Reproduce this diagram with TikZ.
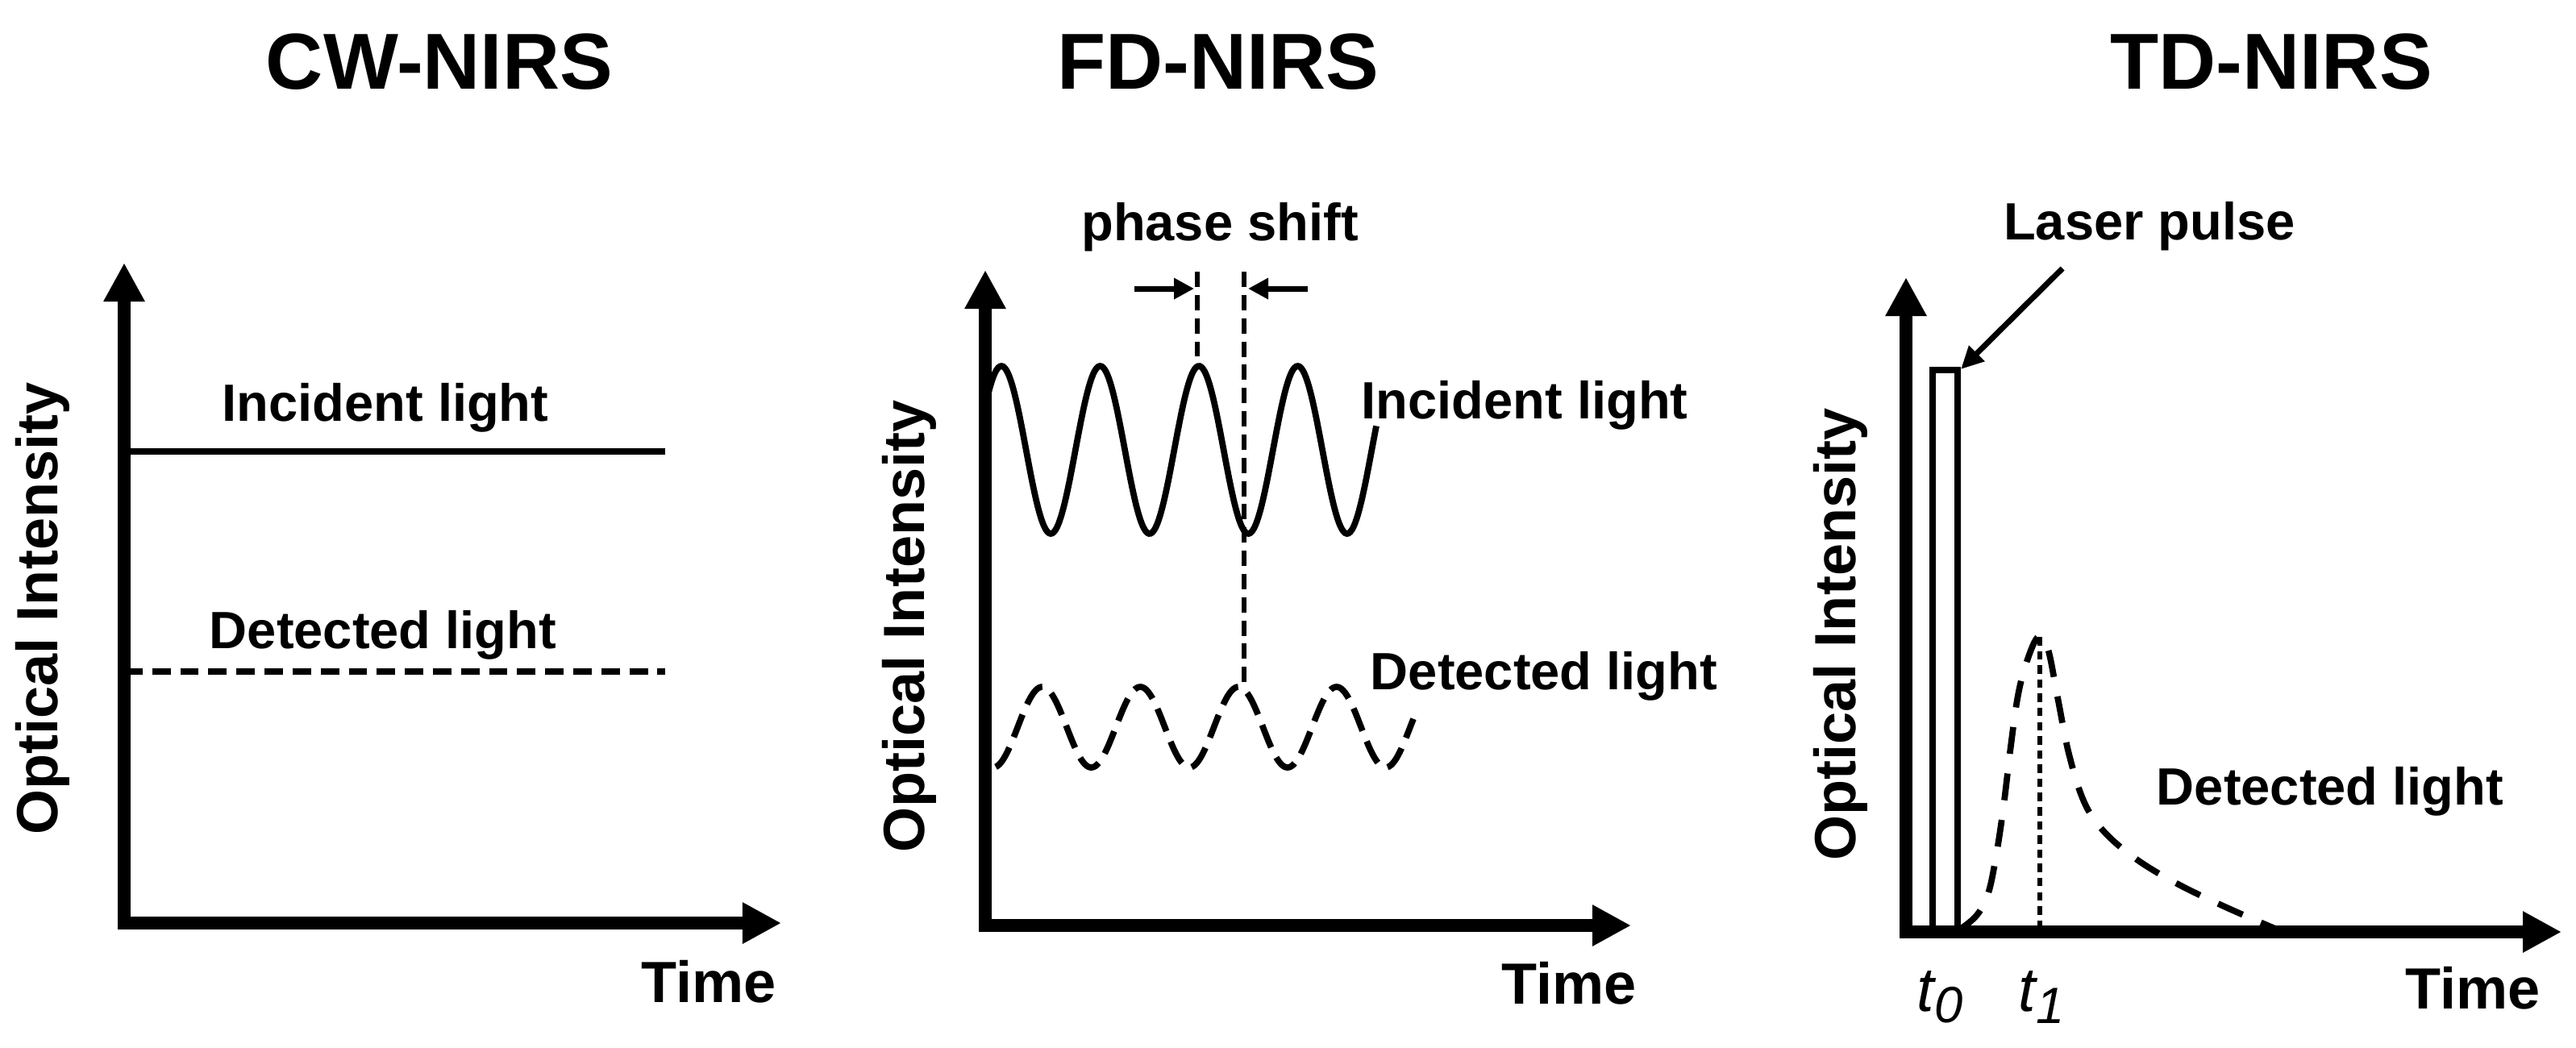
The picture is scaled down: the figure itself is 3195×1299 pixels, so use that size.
\documentclass[tikz,border=0pt]{standalone}
\usepackage{fontspec}
\setmainfont{Liberation Sans}
\usetikzlibrary{arrows.meta,positioning}

\begin{document}
\begin{tikzpicture}[x=0.01cm,y=-0.01cm]
\tikzset{
  axisline/.style={draw=black,line width=4.4pt,line join=miter,{Triangle[length=4.8mm,width=4.8mm]}-{Triangle[length=4.8mm,width=4.8mm]}},
  curveline/.style={draw=black,line width=2.2pt},
  flatdash/.style={curveline,dash pattern=on 6.5pt off 3.4pt},
  wavedash/.style={curveline,dash pattern=on 8.5pt off 4pt},
  pulsedash/.style={curveline,dash pattern=on 9.5pt off 7pt},
  markline/.style={draw=black,line width=1.9pt,dash pattern=on 5.4pt off 2.8pt},
  peakline/.style={draw=black,line width=1.5pt,dash pattern=on 3pt off 2pt},
  pointer/.style={draw=black,line width=2pt,-{Triangle[length=2.5mm,width=2.5mm]}},
  titletext/.style={font=\fontsize{28}{32}\selectfont\bfseries,inner sep=0pt},
  curvetext/.style={font=\fontsize{18.5}{22}\selectfont\bfseries,inner sep=0pt},
  axistext/.style={font=\fontsize{20.5}{24}\selectfont\bfseries,inner sep=0pt},
  ticktext/.style={font=\fontsize{22}{26}\selectfont\itshape,inner sep=0pt}
}
\useasboundingbox (0,0) rectangle (3195,1299);
% titles
\node[titletext] (n_title_cw) at (545,77) {CW-NIRS};
\node[titletext] (n_title_fd) at (1511,77) {FD-NIRS};
\node[titletext] (n_title_td) at (2817,77) {TD-NIRS};
% CW panel
\coordinate (c_ytop_cw) at (154,326);
\coordinate (c_o_cw) at (154,1145);
\coordinate (c_xtip_cw) at (969,1145);
\coordinate (c_inc_cw_a) at (154,560);
\coordinate (c_inc_cw_b) at (825,560);
\coordinate (c_det_cw_a) at (154,833);
\coordinate (c_det_cw_b) at (825,833);
\node[axistext,rotate=90] (n_y_cw) at (53,755) {Optical Intensity};
\node[axistext] (n_t_cw) at (879,1218) {Time};
\node[curvetext] (n_inc_cw) at (478,506) {Incident light};
\node[curvetext] (n_det_cw) at (475,788) {Detected light};
\draw[curveline] (c_inc_cw_a) -- (c_inc_cw_b);
\draw[flatdash] (c_det_cw_a) -- (c_det_cw_b);
\draw[axisline] (c_ytop_cw) -- (c_o_cw) -- (c_xtip_cw);
% FD panel
\coordinate (c_ytop_fd) at (1222,335);
\coordinate (c_o_fd) at (1222,1148);
\coordinate (c_xtip_fd) at (2023,1148);
\coordinate (c_ps_l_top) at (1485,337);
\coordinate (c_ps_l_bot) at (1485,442);
\coordinate (c_ps_r_top) at (1543,337);
\coordinate (c_ps_r_bot) at (1543,852);
\coordinate (c_ps_l_from) at (1407,358);
\coordinate (c_ps_l_to) at (1481,358);
\coordinate (c_ps_r_from) at (1622,358);
\coordinate (c_ps_r_to) at (1548,358);
\node[axistext,rotate=90] (n_y_fd) at (1128,777) {Optical Intensity};
\node[axistext] (n_t_fd) at (1946,1220) {Time};
\node[curvetext] (n_phase) at (1513,282) {phase shift};
\node[curvetext] (n_inc_fd) at (1891,503) {Incident light};
\node[curvetext] (n_det_fd) at (1915,839) {Detected light};
\draw[curveline] plot[domain=1222:1707,samples=240,smooth] (\x,{558-104*cos(((\x-1487)/122.5)*360)});
\draw[wavedash] plot[domain=1235:1753,samples=240,smooth] (\x,{902-50*cos(((\x-1536)/121.7)*360)});
\draw[markline] (c_ps_l_top) -- (c_ps_l_bot);
\draw[markline] (c_ps_r_top) -- (c_ps_r_bot);
\draw[pointer] (c_ps_l_from) -- (c_ps_l_to);
\draw[pointer] (c_ps_r_from) -- (c_ps_r_to);
\draw[axisline] (c_ytop_fd) -- (c_o_fd) -- (c_xtip_fd);
% TD panel
\coordinate (c_ytop_td) at (2364,344);
\coordinate (c_o_td) at (2364,1156);
\coordinate (c_xtip_td) at (3177,1156);
\coordinate (c_pulse_tl) at (2397,459);
\coordinate (c_pulse_br) at (2428,1156);
\coordinate (c_pulse_tr) at (2432,458);
\coordinate (c_laser_from) at (2558,333);
\coordinate (c_peak) at (2530,790);
\coordinate (c_peak_foot) at (2530,1156);
\node[axistext,rotate=90] (n_y_td) at (2283,787) {Optical Intensity};
\node[axistext] (n_t_td) at (3067,1226) {Time};
\node[curvetext] (n_laser) at (2666,281) {Laser pulse};
\node[curvetext] (n_det_td) at (2890,982) {Detected light};
\node[ticktext] (n_t0) at (2406,1237) {t\raisebox{-0.35ex}{\fontsize{18}{20}\selectfont 0}};
\node[ticktext] (n_t1) at (2532,1237) {t\raisebox{-0.35ex}{\fontsize{18}{20}\selectfont 1}};
\draw[curveline] (c_pulse_tl) rectangle (c_pulse_br);
\draw[pulsedash] plot[smooth,tension=0.6] coordinates {(2432,1152) (2452,1135) (2466,1108) (2476,1060) (2485,1000) (2494,925) (2503,862) (2514,820) (2528,790) (2540,805) (2552,865) (2566,935) (2585,995) (2610,1032) (2650,1066) (2700,1096) (2760,1125) (2822,1152)};
\draw[peakline] (c_peak) -- (c_peak_foot);
\draw[pointer,-{Triangle[length=2.8mm,width=2.6mm]}] (c_laser_from) -- (c_pulse_tr);
\draw[axisline] (c_ytop_td) -- (c_o_td) -- (c_xtip_td);
\end{tikzpicture}
\end{document}
